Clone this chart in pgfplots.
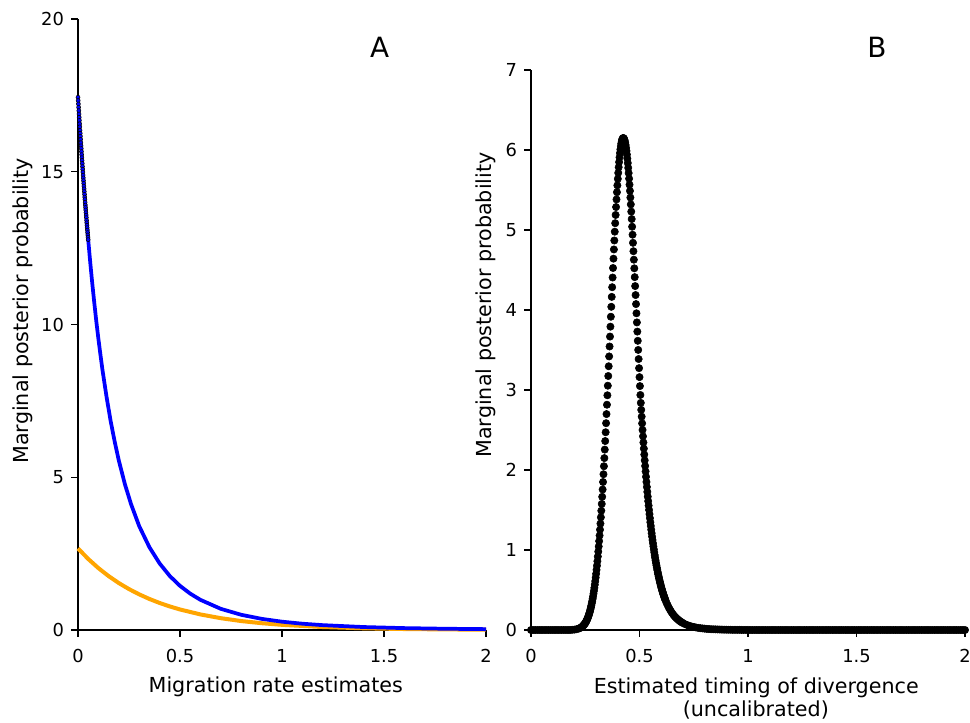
\documentclass[border=0pt]{standalone}
\usepackage{fontspec}
\setmainfont{DejaVu Sans}
\usepackage{pgfplots}
\pgfplotsset{compat=1.18}

\definecolor{mplblue}{RGB}{0,0,255}
\definecolor{mplorange}{RGB}{255,165,0}

\pgfplotsset{
  every non boxed x axis/.style={},
  every non boxed y axis/.style={},
  panel/.style={
    scale only axis,
    axis lines=left,
    axis line style={-, line width=0.8pt},
    tick align=outside,
    major tick length=5pt,
    tick style={black, line width=0.8pt},
    enlargelimits=false,
    clip=false,
    xmin=0, xmax=2, ymin=0,
    xtick={0,0.5,1,1.5,2},
    tick label style={font=\fontsize{13.4}{16}\selectfont},
    xticklabel style={yshift=-6pt},
    yticklabel style={xshift=-2pt},
    /pgf/number format/assume math mode=true,
    anchor=south west,
  },
}
\newcommand{\labfont}{\fontsize{15.5}{18}\selectfont}

\begin{document}
\begin{tikzpicture}

% panel A
\begin{axis}[panel, at={(58.5pt,69pt)}, width=306pt, height=458.25pt,
  ymax=20, ytick={0,5,10,15,20}]
\addplot[mplorange, line width=3pt, line join=round] coordinates {
(0,2.67)(0.05,2.326)(0.1,2.026)(0.15,1.765)(0.2,1.537)(0.25,1.339)(0.3,1.167)
(0.35,1.016)(0.4,0.885)(0.45,0.771)(0.5,0.672)(0.6,0.510)(0.7,0.387)(0.8,0.293)
(0.9,0.223)(1.0,0.169)(1.2,0.097)(1.4,0.056)(1.6,0.032)(1.8,0.019)(2.0,0.011)
};
\addplot[mplblue, line width=2.8pt, line join=round] coordinates {
(0.050,12.78)(0.06,12.03)(0.07,11.34)(0.08,10.70)(0.09,10.09)(0.10,9.53)(0.11,9.01)
(0.12,8.51)(0.14,7.63)(0.16,6.84)(0.18,6.16)(0.20,5.55)(0.23,4.77)(0.26,4.12)
(0.30,3.40)(0.35,2.71)(0.40,2.18)(0.45,1.767)(0.50,1.445)(0.55,1.191)(0.60,0.988)
(0.70,0.693)(0.80,0.498)(0.90,0.365)(1.00,0.272)(1.10,0.206)(1.20,0.159)(1.40,0.097)
(1.60,0.062)(1.80,0.041)(2.00,0.028)
};
\addplot[only marks, mark=*, mark size=1.5pt, mark options={draw=none, fill=mplblue}] coordinates {
(0,17.44)(0.001,17.33)(0.002,17.22)(0.003,17.11)(0.004,17.00)(0.005,16.89)(0.006,16.78)
(0.007,16.68)(0.008,16.57)(0.009,16.47)(0.010,16.36)(0.011,16.26)(0.012,16.16)(0.013,16.06)
(0.014,15.95)(0.015,15.85)(0.016,15.76)(0.017,15.66)(0.018,15.56)(0.019,15.46)(0.020,15.37)
(0.021,15.27)(0.022,15.17)(0.023,15.08)(0.024,14.99)(0.025,14.89)(0.026,14.80)(0.027,14.71)
(0.028,14.62)(0.029,14.53)(0.030,14.44)(0.031,14.35)(0.032,14.26)(0.033,14.17)(0.034,14.09)
(0.035,14.00)(0.036,13.91)(0.037,13.83)(0.038,13.75)(0.039,13.66)(0.040,13.58)(0.041,13.50)
(0.042,13.41)(0.043,13.33)(0.044,13.25)(0.045,13.17)(0.046,13.09)(0.047,13.01)(0.048,12.93)
(0.049,12.86)(0.050,12.78)
};
\node[font=\labfont, anchor=base] at (axis description cs:0.4848,-0.1026) {Migration rate estimates};
\node[font=\labfont, rotate=90, anchor=center] at (axis description cs:-0.136,0.5221) {Marginal posterior probability};
\node[font=\fontsize{20.9}{24}\selectfont, anchor=base] at (axis description cs:0.7395,0.9367) {A};
\end{axis}

% panel B
\begin{axis}[panel, at={(398.25pt,69pt)}, width=325.5pt, height=420pt,
  ymax=7, ytick={0,1,2,3,4,5,6,7}]
\addplot[only marks, mark=*, mark size=2.75pt, mark options={draw=none, fill=black}] coordinates {
(0,0)(0.01,0)(0.02,0)(0.03,0)(0.04,0)(0.05,0)(0.06,0)(0.07,0)(0.08,0)(0.09,0)
(0.10,0)(0.11,0)(0.12,0)(0.13,0)(0.14,0)(0.15,0)(0.16,0)(0.17,0)(0.18,0)
(0.19,0.003)(0.20,0.005)(0.21,0.010)(0.22,0.018)(0.225,0.024)(0.23,0.031)(0.235,0.041)
(0.240,0.053)(0.242,0.059)(0.244,0.065)(0.246,0.072)(0.248,0.079)(0.250,0.087)
(0.252,0.096)(0.254,0.106)(0.256,0.116)(0.258,0.128)(0.260,0.140)(0.262,0.154)
(0.264,0.168)(0.266,0.184)(0.268,0.201)(0.270,0.219)(0.272,0.238)(0.274,0.259)
(0.276,0.282)(0.278,0.306)(0.280,0.332)(0.282,0.359)(0.284,0.389)(0.286,0.420)
(0.288,0.454)(0.290,0.489)(0.292,0.527)(0.294,0.567)(0.296,0.610)(0.298,0.655)
(0.300,0.702)(0.302,0.752)(0.304,0.805)(0.306,0.860)(0.308,0.919)(0.310,0.980)
(0.312,1.044)(0.314,1.111)(0.316,1.181)(0.318,1.254)(0.320,1.330)(0.322,1.409)
(0.324,1.491)(0.326,1.576)(0.328,1.665)(0.330,1.756)(0.332,1.850)(0.334,1.947)
(0.336,2.047)(0.338,2.149)(0.340,2.255)(0.342,2.362)(0.344,2.472)(0.346,2.585)
(0.348,2.699)(0.350,2.816)(0.352,2.934)(0.354,3.054)(0.356,3.175)(0.358,3.297)
(0.360,3.420)(0.362,3.544)(0.364,3.668)(0.366,3.792)(0.368,3.916)(0.370,4.040)
(0.372,4.164)(0.374,4.285)(0.376,4.406)(0.378,4.525)(0.380,4.642)(0.382,4.757)
(0.384,4.869)(0.386,4.979)(0.388,5.085)(0.390,5.188)(0.392,5.287)(0.394,5.382)
(0.396,5.472)(0.398,5.558)(0.400,5.639)(0.402,5.714)(0.404,5.785)(0.406,5.849)
(0.408,5.908)(0.410,5.961)(0.412,6.007)(0.414,6.048)(0.416,6.081)(0.418,6.108)
(0.420,6.129)(0.422,6.142)(0.424,6.149)
(0.426,6.149)(0.428,6.144)(0.430,6.132)(0.432,6.115)(0.434,6.091)(0.436,6.063)
(0.438,6.028)(0.440,5.988)(0.442,5.943)(0.444,5.893)(0.446,5.837)(0.448,5.777)
(0.450,5.712)(0.452,5.642)(0.454,5.567)(0.456,5.489)(0.458,5.406)(0.460,5.320)
(0.462,5.230)(0.464,5.137)(0.466,5.041)(0.468,4.941)(0.470,4.840)(0.472,4.735)
(0.474,4.629)(0.476,4.521)(0.478,4.411)(0.480,4.299)(0.482,4.187)(0.484,4.074)
(0.486,3.959)(0.488,3.845)(0.490,3.730)(0.492,3.615)(0.494,3.501)(0.496,3.387)
(0.498,3.273)(0.500,3.161)(0.502,3.049)(0.504,2.938)(0.506,2.839)(0.508,2.752)
(0.510,2.667)(0.512,2.583)(0.514,2.501)(0.516,2.421)(0.518,2.344)(0.520,2.268)
(0.522,2.193)(0.524,2.121)(0.526,2.051)(0.528,1.982)(0.530,1.916)(0.532,1.851)
(0.534,1.788)(0.536,1.727)(0.538,1.668)(0.540,1.611)(0.542,1.555)(0.544,1.501)
(0.546,1.448)(0.548,1.398)(0.550,1.348)(0.552,1.301)(0.554,1.255)(0.556,1.210)
(0.558,1.167)(0.560,1.125)(0.562,1.085)(0.564,1.046)(0.566,1.009)(0.568,0.972)
(0.570,0.937)(0.572,0.903)(0.574,0.871)(0.576,0.839)(0.578,0.809)(0.580,0.779)
(0.582,0.751)(0.584,0.723)(0.586,0.697)(0.588,0.672)(0.590,0.647)(0.592,0.623)
(0.594,0.601)(0.596,0.579)(0.598,0.558)(0.600,0.537)(0.602,0.517)(0.604,0.499)
(0.606,0.480)(0.608,0.463)(0.610,0.446)(0.612,0.430)(0.614,0.414)(0.616,0.399)
(0.618,0.384)(0.620,0.370)(0.625,0.337)(0.630,0.308)(0.635,0.280)(0.640,0.256)
(0.645,0.233)(0.650,0.213)(0.655,0.194)(0.660,0.178)(0.665,0.162)(0.670,0.148)
(0.675,0.136)(0.680,0.124)(0.685,0.113)(0.690,0.104)(0.695,0.095)(0.700,0.087)
(0.71,0.073)(0.72,0.062)(0.73,0.052)(0.74,0.044)(0.75,0.038)(0.76,0.032)
(0.77,0.027)(0.78,0.023)(0.79,0.020)(0.80,0.017)(0.81,0.014)(0.82,0.012)
(0.83,0.010)(0.84,0.009)(0.85,0.008)(0.86,0.007)(0.87,0.006)(0.88,0.005)
(0.89,0.004)(0.90,0.004)(0.91,0.003)(0.92,0.003)(0.93,0.002)(0.94,0.002)
(0.95,0.002)(0.96,0.002)(0.97,0.001)(0.98,0.001)(0.99,0.001)(1.00,0.001)
(1.01,0)(1.02,0)(1.03,0)(1.04,0)(1.05,0)(1.06,0)(1.07,0)(1.08,0)(1.09,0)(1.10,0)
(1.11,0)(1.12,0)(1.13,0)(1.14,0)(1.15,0)(1.16,0)(1.17,0)(1.18,0)(1.19,0)(1.20,0)
(1.21,0)(1.22,0)(1.23,0)(1.24,0)(1.25,0)(1.26,0)(1.27,0)(1.28,0)(1.29,0)(1.30,0)
(1.31,0)(1.32,0)(1.33,0)(1.34,0)(1.35,0)(1.36,0)(1.37,0)(1.38,0)(1.39,0)(1.40,0)
(1.41,0)(1.42,0)(1.43,0)(1.44,0)(1.45,0)(1.46,0)(1.47,0)(1.48,0)(1.49,0)(1.50,0)
(1.51,0)(1.52,0)(1.53,0)(1.54,0)(1.55,0)(1.56,0)(1.57,0)(1.58,0)(1.59,0)(1.60,0)
(1.61,0)(1.62,0)(1.63,0)(1.64,0)(1.65,0)(1.66,0)(1.67,0)(1.68,0)(1.69,0)(1.70,0)
(1.71,0)(1.72,0)(1.73,0)(1.74,0)(1.75,0)(1.76,0)(1.77,0)(1.78,0)(1.79,0)(1.80,0)
(1.81,0)(1.82,0)(1.83,0)(1.84,0)(1.85,0)(1.86,0)(1.87,0)(1.88,0)(1.89,0)(1.90,0)
(1.91,0)(1.92,0)(1.93,0)(1.94,0)(1.95,0)(1.96,0)(1.97,0)(1.98,0)(1.99,0)(2.00,0)
};
\node[font=\labfont, anchor=base] at (axis description cs:0.519,-0.1130) {Estimated timing of divergence};
\node[font=\labfont, anchor=base] at (axis description cs:0.518,-0.1548) {(uncalibrated)};
\node[font=\labfont, rotate=90, anchor=center] at (axis description cs:-0.1048,0.5804) {Marginal posterior probability};
\node[font=\fontsize{20.9}{24}\selectfont, anchor=base] at (axis description cs:0.797,1.022) {B};
\end{axis}

\pgfresetboundingbox
\useasboundingbox (0,0) rectangle (727.5pt,541.5pt);
\end{tikzpicture}
\end{document}
